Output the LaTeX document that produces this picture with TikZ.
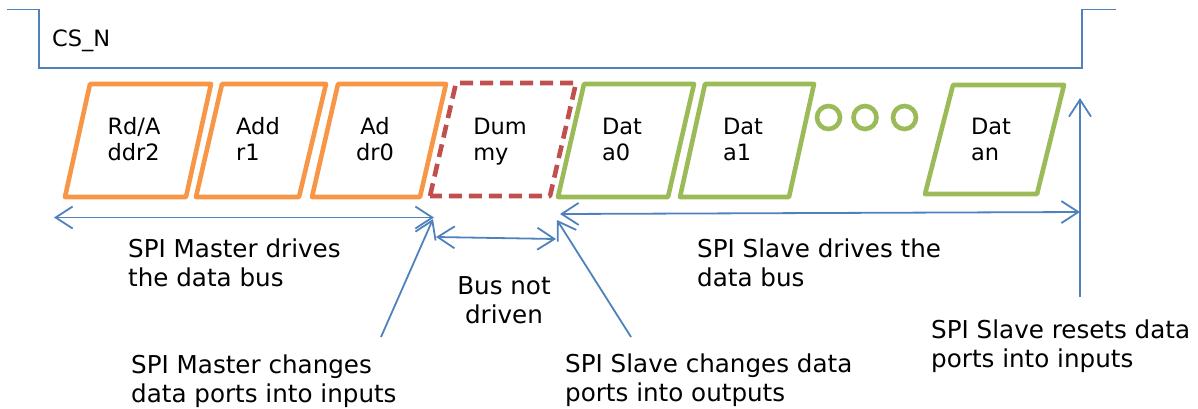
\documentclass[tikz,border=0pt]{standalone}
\usepackage{fontspec}
\setmainfont{DejaVu Sans}
\usepackage{xcolor}
\usepackage{tikz}
\usetikzlibrary{arrows.meta}
\definecolor{sigBlue}{HTML}{4F81BD}
\definecolor{addrOrange}{HTML}{F79646}
\definecolor{dummyRed}{HTML}{C0504D}
\definecolor{dataGreen}{HTML}{9BBB59}
\tikzset{
wire/.style = {draw=sigBlue, line width=1.8pt},
arr/.style = {draw=sigBlue, line width=1.8pt,
              >={Straight Barb[length=17pt, width=22pt]}}
}
\tikzset{
cell/.style = {line width=4.6pt, line join=round},
cellText/.style = {anchor=north, align=left, inner sep=0pt,
                   font=\fontsize{22.5}{26}\selectfont},
ring/.style = {circle, draw=dataGreen, line width=4.6pt,
               minimum size=#1, inner sep=0pt},
ring/.default = 23pt % diameter of the dots
}
\tikzset{
note/.style = {anchor=north west, align=left, inner sep=0pt,
               font=\fontsize{24.6}{29}\selectfont}
}

\begin{document}
\begin{tikzpicture}[x=1pt, y=-1pt]
  \useasboundingbox (0,0) rectangle (1198,408);

  % Chip select
    \draw[wire] (7,9.5) -- (39,9.5) -- (39,68) -- (1082,68) -- (1082,9.5) -- (1116,9.5);
    \node[anchor=base west, inner sep=0pt, font=\fontsize{22.5}{26}\selectfont] (csText) at (52,46) {CS\_N};

  % Boxes
    \draw[cell, draw=addrOrange] (65,197) -- (90,84) -- (211,84) -- (186,197) -- cycle;
    \draw[cell, draw=addrOrange] (196,197) -- (222,84) -- (326,84) -- (299,197) -- cycle;
    \draw[cell, draw=addrOrange] (312,197) -- (338,84) -- (446,84) -- (420,197) -- cycle;
    \draw[cell, draw=dummyRed, dash pattern=on 13pt off 7pt] (430,196) -- (456,83) -- (576,83) -- (550,196) -- cycle;
    \draw[cell, draw=dataGreen] (558,197) -- (584,84) -- (694,84) -- (668,197) -- cycle;
    \draw[cell, draw=dataGreen] (680,197) -- (705,84) -- (814,84) -- (789,197) -- cycle;
    \draw[cell, draw=dataGreen] (925,194) -- (953,85) -- (1064,85) -- (1037,194) -- cycle;

  % Box texts
    \node[cellText] (addrTwo) at (134,116.5) {\strut Rd/A\\ddr2};
    \node[cellText] (addrOne) at (258,116.5) {\strut Add\\r1};
    \node[cellText, align=center] (addrZero) at (375,116.5) {\strut Ad\\dr0};
    \node[cellText] (dummyText) at (500,116.5) {\strut Dum\\my};
    \node[cellText] (dataZero) at (622,116.5) {\strut Dat\\a0};
    \node[cellText] (dataOne) at (743,116.5) {\strut Dat\\a1};
    \node[cellText] (dataN) at (991,116.2) {\strut Dat\\an};

  % Dots
    \node[ring] (dotA) at (828.5,117.5) {};
    \node[ring] (dotB) at (865,117.5) {};
    \node[ring] (dotC) at (904.5,117.5) {};

  % Arrow ends
    \coordinate (mStart) at (54,217.5);
    \coordinate (mEnd) at (434,217.5);
    \coordinate (gapStart) at (436,237);
    \coordinate (gapEnd) at (556,239);
    \coordinate (sStart) at (560,214);
    \coordinate (sEnd) at (1080,212);
    \coordinate (mTail) at (381,337);
    \coordinate (mTip) at (433,219);
    \coordinate (sTail) at (631,337);
    \coordinate (sTip) at (557,220);
    \coordinate (rTail) at (1080,297);
    \coordinate (rTip) at (1080,98);

  % Labels
    \node[note] (masterDrives) at (128,236.7) {\strut SPI Master drives\\the data bus};
    \node[note, anchor=north, align=center] (notDriven) at (504,273.7) {\strut Bus not\\driven};
    \node[note] (slaveDrives) at (697,236.7) {\strut SPI Slave drives the\\data bus};
    \node[note] (masterChanges) at (131,352.7) {\strut SPI Master changes\\data ports into inputs};
    \node[note] (slaveChanges) at (565,351.7) {\strut SPI Slave changes data\\ports into outputs};
    \node[note] (slaveResets) at (931,317.7) {\strut SPI Slave resets data\\ports into inputs};

  % Lines
    \draw[arr, <->] (mStart) -- (mEnd);
    \draw[arr, <->] (gapStart) -- (gapEnd);
    \draw[arr, <->] (sStart) -- (sEnd);
    \draw[arr, ->] (mTail) -- (mTip);
    \draw[arr, ->] (sTail) -- (sTip);
    \draw[arr, ->] (rTail) -- (rTip);
\end{tikzpicture}
\end{document}
